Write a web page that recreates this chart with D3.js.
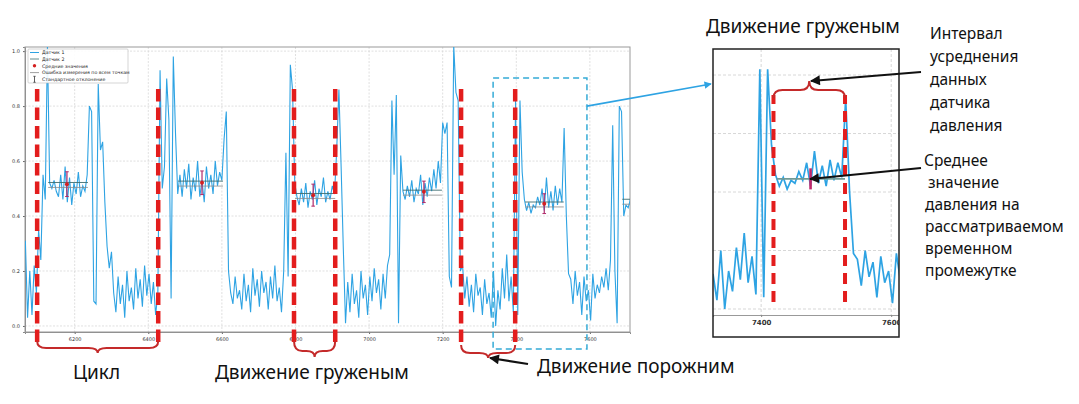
<!DOCTYPE html>
<html><head><meta charset="utf-8">
<script src="https://cdn.jsdelivr.net/npm/d3@7"></script>
<style>body{margin:0;background:#fff;} svg{display:block;}</style>
</head><body>
<svg id="c" width="1079" height="404"></svg>
<script>
// ---------- DATA ----------
const t0 = 6066, dt = 6; // sample time of first value and sampling step
const sensor1 = [
 0.31,0.03,0.20,0.04,0.22,0.12,0.35,0.24,0.55,0.46,
 1.02,0.52,0.50,0.53,0.49,0.47,0.55,0.46,0.58,0.45,
 0.54,0.44,0.52,0.48,0.56,0.47,0.51,0.49,0.55,0.80,
 0.78,0.09,0.08,0.88,0.64,0.67,0.45,0.29,0.21,0.27,
 0.12,0.05,0.18,0.08,0.15,0.03,0.20,0.09,0.14,0.06,
 0.21,0.10,0.17,0.07,0.22,0.11,0.19,0.08,0.16,0.04,
 0.12,0.93,0.50,0.58,0.90,0.75,0.10,0.98,0.70,0.48,
 0.55,0.47,0.57,0.50,0.59,0.46,0.54,0.49,0.60,0.47,
 0.53,0.45,0.58,0.50,0.55,0.48,0.60,0.51,0.56,0.53,
 0.68,0.78,0.20,0.12,0.08,0.18,0.10,0.13,0.06,0.19,
 0.09,0.15,0.05,0.21,0.11,0.17,0.07,0.20,0.12,0.16,
 0.06,0.18,0.10,0.22,0.09,0.14,0.05,0.20,0.63,0.18,
 0.95,0.86,0.52,0.47,0.44,0.50,0.45,0.52,0.43,0.49,
 0.46,0.53,0.44,0.50,0.47,0.54,0.45,0.49,0.46,0.51,
 0.48,0.64,0.86,0.58,0.28,0.01,0.16,0.05,0.19,0.08,
 0.13,0.03,0.20,0.10,0.15,0.04,0.18,0.09,0.21,0.12,
 0.17,0.06,0.19,0.10,0.22,0.26,0.82,0.55,0.84,0.01,
 0.62,0.49,0.46,0.51,0.47,0.53,0.45,0.50,0.48,0.55,
 0.44,0.52,0.47,0.54,0.49,0.57,0.50,0.60,0.52,0.74,
 0.70,0.74,0.18,0.14,1.02,0.85,0.82,0.20,0.22,0.10,
 0.18,0.07,0.15,0.05,0.19,0.11,0.14,0.04,0.17,0.08,
 0.12,0.03,0.20,0.00,0.13,0.06,0.21,0.10,0.26,0.09,
 0.18,0.05,0.82,0.04,0.82,0.56,0.46,0.42,0.45,0.41,
 0.44,0.43,0.47,0.44,0.50,0.42,0.54,0.43,0.49,0.42,
 0.51,0.44,0.50,0.45,0.72,0.40,0.19,0.17,0.08,0.20,
 0.11,0.16,0.04,0.18,0.09,0.13,0.02,0.19,0.10,0.15,
 0.12,0.18,0.14,0.21,0.13,0.24,0.73,0.20,0.01,0.80,
 0.78,0.40,0.44,0.43,0.46
];
const xTicks = [6200,6400,6600,6800,7000,7200,7400,7600];
const yTicks = [0.0,0.2,0.4,0.6,0.8,1.0];
const insetXTicks = [7400,7600];
const insetYTicks = [0.0,0.2,0.4,0.6,0.8];
// averaging intervals (Датчик 2 / mean), means and std
const segStart = [6128,6481,6799,7092,7424,7688];
const segEnd   = [6236,6603,6908,7198,7529,7760];
const segMean  = [0.516,0.521,0.476,0.488,0.445,0.455];
const segStd   = [0.045,0.043,0.040,0.039,0.036,0.040];
const segDotX  = [6179,6546,6848,7149,7476,7740];
const boundaries = [6098,6427,6796,6908,7250,7397];
const insetBounds = [7419,7529];
const legendLabels = ["Датчик 1","Датчик 2","Средние значения","Ошибка измерения по всем точкам","Стандартное отклонение"];

// ---------- SETUP ----------
const svg = d3.select("#c");
const series = sensor1.map((v,i)=>({t:t0+i*dt, v}));
const BLUE="#2ea3e3", RED="#e31d1d", BR="#c42a2a", GRID="#d3d3d3";
const x = d3.scaleLinear().domain([6065,7709]).range([25,630]);
const y = d3.scaleLinear().domain([-0.022,1.015]).range([332,47]);
const xi = d3.scaleLinear().domain([7326,7612]).range([713,899]);
const yi = d3.scaleLinear().domain([-0.0205,0.889]).range([315,49]);

const defs = svg.append("defs");
defs.append("clipPath").attr("id","mainClip").append("rect").attr("x",25).attr("y",47).attr("width",605).attr("height",285);
defs.append("clipPath").attr("id","insClip").append("rect").attr("x",713).attr("y",49).attr("width",186).attr("height",266);
defs.append("clipPath").attr("id","insAll").append("rect").attr("x",713).attr("y",49).attr("width",186).attr("height",288);
function marker(id,color){
  defs.append("marker").attr("id",id).attr("viewBox","0 0 10 10").attr("refX",9).attr("refY",5)
   .attr("markerWidth",5).attr("markerHeight",4.5).attr("orient","auto")
   .append("path").attr("d","M0,0 L10,5 L0,10 z").attr("fill",color);
}
marker("arK","#111"); marker("arB",BLUE);

// ---------- MAIN CHART ----------
const main = svg.append("g");
// grid
main.append("g").selectAll("line").data(xTicks).join("line")
  .attr("x1",d=>x(d)).attr("x2",d=>x(d)).attr("y1",47).attr("y2",332)
  .attr("stroke",GRID).attr("stroke-width",0.7).attr("stroke-dasharray","2,1.5");
main.append("g").selectAll("line").data(yTicks).join("line")
  .attr("x1",25).attr("x2",630).attr("y1",d=>y(d)).attr("y2",d=>y(d))
  .attr("stroke",GRID).attr("stroke-width",0.7).attr("stroke-dasharray","2,1.5");
// axes
const xAxis = main.append("g").attr("transform","translate(0,332)")
  .call(d3.axisBottom(x).tickValues(xTicks).tickSize(2).tickFormat(d3.format("d")));
const yAxis = main.append("g").attr("transform","translate(25,0)")
  .call(d3.axisLeft(y).tickValues(yTicks).tickSize(2).tickFormat(d3.format(".1f")));
[xAxis,yAxis].forEach(a=>{
  a.select(".domain").attr("stroke","#888");
  a.selectAll(".tick line").attr("stroke","#666");
  a.selectAll("text").attr("font-family","DejaVu Sans").attr("font-size",5).attr("fill","#333");
});
// frame
main.append("rect").attr("x",25).attr("y",47).attr("width",605).attr("height",285)
  .attr("fill","none").attr("stroke","#999").attr("stroke-width",1);

const plot = main.append("g").attr("clip-path","url(#mainClip)");
const line = d3.line().x(d=>x(d.t)).y(d=>y(d.v));
plot.append("path").datum(series).attr("d",line).attr("fill","none").attr("stroke",BLUE).attr("stroke-width",1.1);
// mean lines (Датчик 2 and error lines)
segMean.forEach((m,i)=>{
  plot.append("line").attr("x1",x(segStart[i])).attr("x2",x(segEnd[i])).attr("y1",y(m+0.006)).attr("y2",y(m+0.006))
    .attr("stroke","#3e6e70").attr("stroke-width",0.9);
  plot.append("line").attr("x1",x(segStart[i])).attr("x2",x(segEnd[i])).attr("y1",y(m-0.012)).attr("y2",y(m-0.012))
    .attr("stroke","#8a8a8a").attr("stroke-width",0.8);
  const cx=x(segDotX[i]);
  plot.append("line").attr("x1",cx).attr("x2",cx).attr("y1",y(m+segStd[i])).attr("y2",y(m-segStd[i]))
    .attr("stroke","#b02a6a").attr("stroke-width",1.2);
  [m+segStd[i],m-segStd[i]].forEach(v=>plot.append("line").attr("x1",cx-1.8).attr("x2",cx+1.8)
    .attr("y1",y(v)).attr("y2",y(v)).attr("stroke","#b02a6a").attr("stroke-width",1));
  plot.append("circle").attr("cx",cx).attr("cy",y(m)).attr("r",2).attr("fill","#d42020");
});

// legend
const lg = main.append("g");
lg.append("rect").attr("x",28).attr("y",49).attr("width",100).attr("height",34)
  .attr("fill","#fff").attr("fill-opacity",0.9).attr("stroke","#bbb").attr("stroke-width",0.6).attr("rx",1);
const ly = [52.5,59,65.8,72.6,79.3];
lg.append("line").attr("x1",30).attr("x2",39).attr("y1",ly[0]).attr("y2",ly[0]).attr("stroke",BLUE).attr("stroke-width",1);
lg.append("line").attr("x1",30).attr("x2",39).attr("y1",ly[1]).attr("y2",ly[1]).attr("stroke","#3e6e70").attr("stroke-width",0.8);
lg.append("circle").attr("cx",34.5).attr("cy",ly[2]).attr("r",1.7).attr("fill","#d42020");
lg.append("line").attr("x1",30).attr("x2",39).attr("y1",ly[3]).attr("y2",ly[3]).attr("stroke","#888").attr("stroke-width",0.8);
lg.append("line").attr("x1",34.5).attr("x2",34.5).attr("y1",ly[4]-3).attr("y2",ly[4]+3).attr("stroke","#333").attr("stroke-width",0.8);
[ly[4]-3,ly[4]+3].forEach(v=>lg.append("line").attr("x1",33.3).attr("x2",35.7).attr("y1",v).attr("y2",v).attr("stroke","#333").attr("stroke-width",0.7));
lg.selectAll("text.lg").data(legendLabels).join("text").attr("class","lg")
  .attr("x",42).attr("y",(d,i)=>ly[i]+1.7).text(d=>d)
  .attr("font-family","DejaVu Sans").attr("font-size",4.7).attr("fill","#222");

// red dashed boundaries
main.append("g").selectAll("line").data(boundaries).join("line")
  .attr("x1",d=>x(d)).attr("x2",d=>x(d)).attr("y1",342).attr("y2",89)
  .attr("stroke",RED).attr("stroke-width",4.5).attr("stroke-dasharray","12.5,6");

// cyan dashed rectangle + connector
main.append("rect").attr("x",x(7337)).attr("y",78).attr("width",x(7592)-x(7337)).attr("height",271)
  .attr("fill","none").attr("stroke","#35abd6").attr("stroke-width",1.5).attr("stroke-dasharray","6,4");
svg.append("line").attr("x1",x(7592)).attr("y1",y(0.8)).attr("x2",711).attr("y2",84)
  .attr("stroke",BLUE).attr("stroke-width",1.6).attr("marker-end","url(#arB)");

// braces
function brace(x1,x2,y0,ym,y1){
  const mid=(x1+x2)/2, r=Math.min(9,(x2-x1)/5);
  return `M${x1},${y0} Q${x1},${ym} ${x1+r},${ym} L${mid-r},${ym} Q${mid},${ym} ${mid},${y1} Q${mid},${ym} ${mid+r},${ym} L${x2-r},${ym} Q${x2},${ym} ${x2},${y0}`;
}
const braces = [[0,1,341,348,353],[2,3,341,351,357],[4,5,345,353,358]];
braces.forEach(b=>{
  svg.append("path").attr("d",brace(x(boundaries[b[0]]),x(boundaries[b[1]]),b[2],b[3],b[4]))
    .attr("fill","none").attr("stroke",BR).attr("stroke-width",2);
});

// ---------- INSET ----------
const ins = svg.append("g");
ins.append("rect").attr("x",713).attr("y",49).attr("width",186).attr("height",288).attr("fill","#fff");
ins.append("g").selectAll("line").data(insetYTicks).join("line")
  .attr("x1",713).attr("x2",899).attr("y1",d=>yi(d)).attr("y2",d=>yi(d))
  .attr("stroke",GRID).attr("stroke-width",0.9).attr("stroke-dasharray","3,2");
ins.append("g").selectAll("line").data(insetXTicks).join("line")
  .attr("x1",d=>xi(d)).attr("x2",d=>xi(d)).attr("y1",49).attr("y2",315)
  .attr("stroke",GRID).attr("stroke-width",0.9).attr("stroke-dasharray","3,2");
const insAxWrap = ins.append("g").attr("clip-path","url(#insAll)");
const insAx = insAxWrap.append("g").attr("transform","translate(0,315)")
  .call(d3.axisBottom(xi).tickValues(insetXTicks).tickSize(2).tickFormat(d3.format("d")));
insAx.select(".domain").attr("stroke","#999").attr("stroke-width",1.2);
insAx.selectAll(".tick line").attr("stroke","#888");
insAx.selectAll("text").attr("font-family","DejaVu Sans").attr("font-size",7).attr("font-weight","bold").attr("fill","#333");
const iplot = ins.append("g").attr("clip-path","url(#insClip)");
const iline = d3.line().x(d=>xi(d.t)).y(d=>yi(d.v));
iplot.append("path").datum(series).attr("d",iline).attr("fill","none").attr("stroke",BLUE).attr("stroke-width",1.7);
iplot.append("line").attr("x1",xi(segStart[4])).attr("x2",xi(segEnd[4])).attr("y1",yi(segMean[4])).attr("y2",yi(segMean[4]))
  .attr("stroke","#6f9a96").attr("stroke-width",1.6);
iplot.append("line").attr("x1",xi(segDotX[4])).attr("x2",xi(segDotX[4])).attr("y1",yi(segMean[4]+segStd[4])).attr("y2",yi(segMean[4]-segStd[4]))
  .attr("stroke","#c0286a").attr("stroke-width",2.6);
iplot.selectAll("line.ib").data(insetBounds).join("line").attr("class","ib")
  .attr("x1",d=>xi(d)).attr("x2",d=>xi(d)).attr("y1",302).attr("y2",95)
  .attr("stroke",RED).attr("stroke-width",4).attr("stroke-dasharray","11,7");
ins.append("rect").attr("x",713).attr("y",49).attr("width",186).attr("height",288)
  .attr("fill","none").attr("stroke","#222").attr("stroke-width",1.5);
svg.append("path").attr("d",brace(xi(insetBounds[0]),xi(insetBounds[1]),98,90,81))
  .attr("fill","none").attr("stroke",BR).attr("stroke-width",2);

// ---------- ANNOTATION TEXT & ARROWS ----------
const F = "'Noto Sans', 'Open Sans', sans-serif";
function txt(s,xp,yp,size){ svg.append("text").attr("x",xp).attr("y",yp).text(s)
  .attr("font-family",F).attr("font-size",size).attr("fill","#111"); }
txt("Движение груженым",706,33,19);
txt("Цикл",73,379,19);
txt("Движение груженым",215,379,19);
txt("Движение порожним",537,373,19);
["Интервал","усреднения","данных","датчика","давления"].forEach((s,i)=>txt(s,930,39+i*23,15.5));
["Среднее","значение","давления на","рассматриваемом","временном","промежутке"].forEach((s,i)=>txt(s,[924,928,925,925,925,925][i],166+i*22,15.5));
[[921,72,811,81],[921,168,810,179],[528,364,490,358]].forEach(a=>{
  svg.append("line").attr("x1",a[0]).attr("y1",a[1]).attr("x2",a[2]).attr("y2",a[3])
    .attr("stroke","#111").attr("stroke-width",2.2).attr("marker-end","url(#arK)");
});
</script>
</body></html>
